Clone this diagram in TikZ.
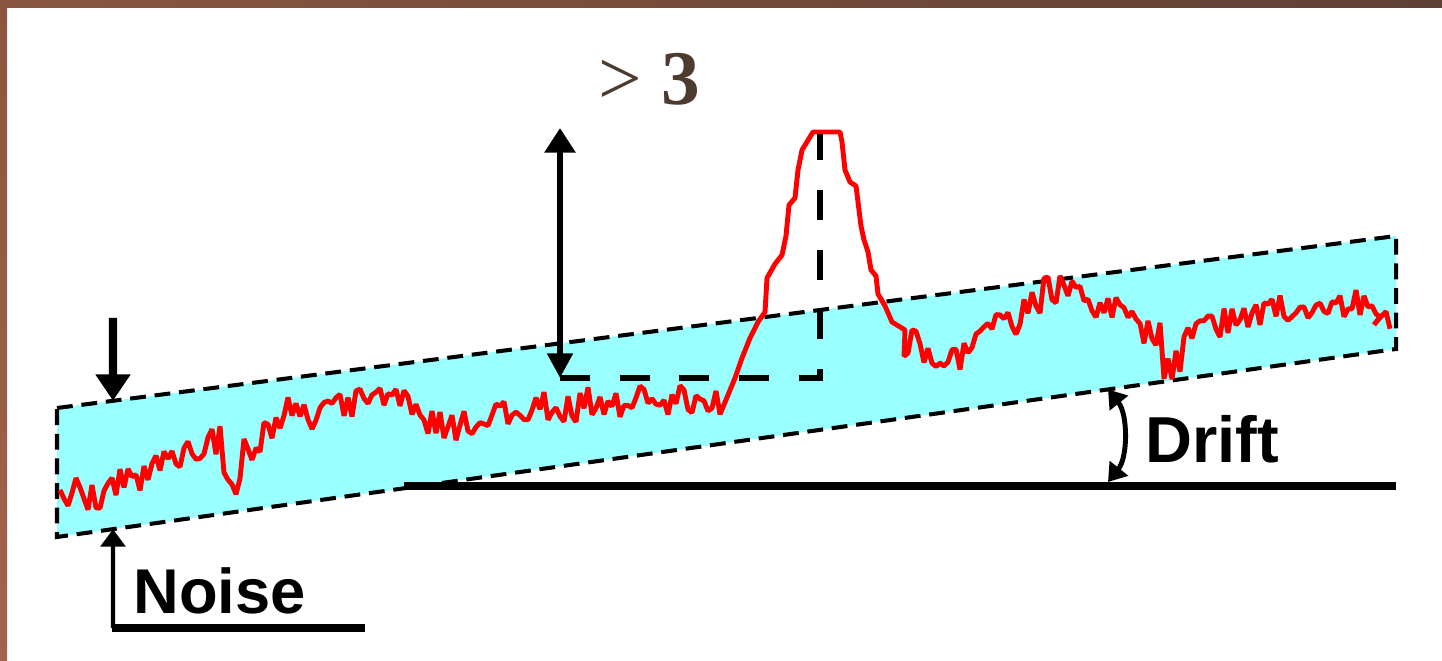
\documentclass[tikz,border=0pt]{standalone}
\usepackage{fontspec}
\setmainfont{Liberation Serif}
\newfontfamily\labelfont{Liberation Sans}
\usetikzlibrary{arrows.meta,positioning,calc}
\definecolor{bandcyan}{HTML}{99FFFF}
\definecolor{framedark}{HTML}{5D4134}
\definecolor{framelight}{HTML}{8A5641}
\definecolor{framered}{HTML}{A3634C}
\definecolor{textbrown}{HTML}{4E3B2F}
\tikzstyle{band} = [fill=bandcyan]
\tikzstyle{edge} = [line width=2.3pt, dash pattern=on 9pt off 5pt]
\tikzstyle{guide} = [line width=3.4pt, dash pattern=on 17pt off 17pt]
\tikzstyle{signal} = [red, line width=2.8pt, line join=bevel]
\tikzstyle{arrow} = [line width=3.4pt, -{Triangle[length=14pt,width=17pt]}]
\tikzstyle{tag} = [font=\labelfont\bfseries\fontsize{36}{36}\selectfont, inner sep=0pt, anchor=base west]

\begin{document}
\begin{tikzpicture}[x=0.02cm, y=-0.02cm]
    \useasboundingbox (0,0) rectangle (1442,661);
    % frame
    \fill[left color=framelight, right color=framedark] (0,0) rectangle (1442,8);
    \fill[top color=framelight, bottom color=framered] (0,0) rectangle (7,661);

    % noise band
    \coordinate (TL) at (57,408);
    \coordinate (TR) at (1396,236);
    \coordinate (BR) at (1396,349);
    \coordinate (BL) at (57,537);
    \fill[band] (TL) -- (TR) -- (BR) -- (BL) -- cycle;
    \draw[edge] (TL) -- (TR) -- (BR) -- (BL) -- cycle;

    % signal
    \pgfmathsetseed{12}
    \draw[signal] (60,490)
        \foreach \x/\y in {80/492, 100/495, 120/482, 140/478, 160/470, 180/465,
            200/455, 220/440, 240/480, 260/450, 280/425, 300/412, 320/415,
            340/405, 360/402, 380/392, 400/395, 420/402, 440/420, 460/428,
            480/425, 500/415, 520/410, 540/405, 560/405, 580/408, 600/402,
            620/405, 640/400, 660/403, 680/400, 700/400, 720/402}
        { -- ({\x-16},{\y+15*rand}) -- ({\x-12},{\y+15*rand})
          -- ({\x-8},{\y+15*rand}) -- ({\x-4},{\y+15*rand})
          -- (\x,{\y+15*rand}) }
        \foreach \x/\y in {728/395, 735/378, 742/358, 750/338, 758/322,
            765/312, 767/278, 775/264, 782/255, 786/236, 789/205, 795/198,
            798/170, 802/150, 810/137, 813/132, 840/132, 842/142, 845/170,
            850/182, 856/186, 858/202, 861/226, 864/240, 868/252, 871/270,
            876/276, 878/294, 885/306, 892/322, 905/330}
        { -- (\x,\y) }
        \foreach \x/\y in {920/345, 940/360, 960/362, 980/345, 1000/320,
            1020/320, 1040/300, 1060/288, 1080/295, 1100/305, 1120/310,
            1140/318, 1160/335, 1180/365, 1200/330, 1220/325, 1240/318,
            1260/315, 1280/310, 1300/308, 1320/310, 1340/305, 1360/305,
            1380/305, 1390/318}
        { -- ({\x-16},{\y+15*rand}) -- ({\x-12},{\y+15*rand})
          -- ({\x-8},{\y+15*rand}) -- ({\x-4},{\y+15*rand})
          -- (\x,{\y+15*rand}) };

    % peak height
    \coordinate (base) at (560,378);
    \coordinate (corner) at (820,378);
    \coordinate (peak) at (820,134);
    \coordinate (top) at (560,128);
    \draw[guide] (base) -- (corner) -- (peak);
    \draw[arrow, {Triangle[length=14pt,width=14pt]}-{Triangle[length=14pt,width=17pt]}] (base) -- (top);
    \node[font=\fontsize{44}{44}\selectfont, text=textbrown, anchor=base] (ratio) at (649,105) {> \textbf{3}};

    % noise
    \coordinate (nstart) at (113,318);
    \coordinate (ntop) at ($(TL)!{(113-57)/1339}!(TR)$);
    \coordinate (nbot) at ($(BL)!{(113-57)/1339}!(BR)$);
    \coordinate (nfoot) at (113,628);
    \coordinate (nend) at (365,628);
    \draw[arrow, line width=4.6pt, -{Triangle[length=15pt,width=19pt]}] (nstart) -- (ntop);
    \draw[line width=2.3pt, -{Triangle[length=10pt,width=14pt]}] (nfoot) -- (nbot);
    \draw[line width=4.6pt] ($(nfoot)+(-1,0)$) -- (nend);
    \node[tag] (noise) at (133,613) {Noise};

    % drift
    \coordinate (dtop) at ($(BL)!{(1108-57)/1339}!(BR)$);
    \coordinate (dbot) at (1108,482);
    \coordinate (lstart) at (404,486);
    \coordinate (lend) at (1396,486);
    \draw[line width=4.6pt] (lstart) -- (lend);
    \draw[line width=2.8pt, {Triangle[length=10pt,width=13pt]}-{Triangle[length=10pt,width=13pt]}]
        (dtop) .. controls ($(dtop)+(20,25)$) and ($(dbot)+(20,-25)$) .. (dbot);
    \node[tag, font=\labelfont\bfseries\fontsize{37}{37}\selectfont] (drift) at (1145,462) {Drift};
\end{tikzpicture}
\end{document}
